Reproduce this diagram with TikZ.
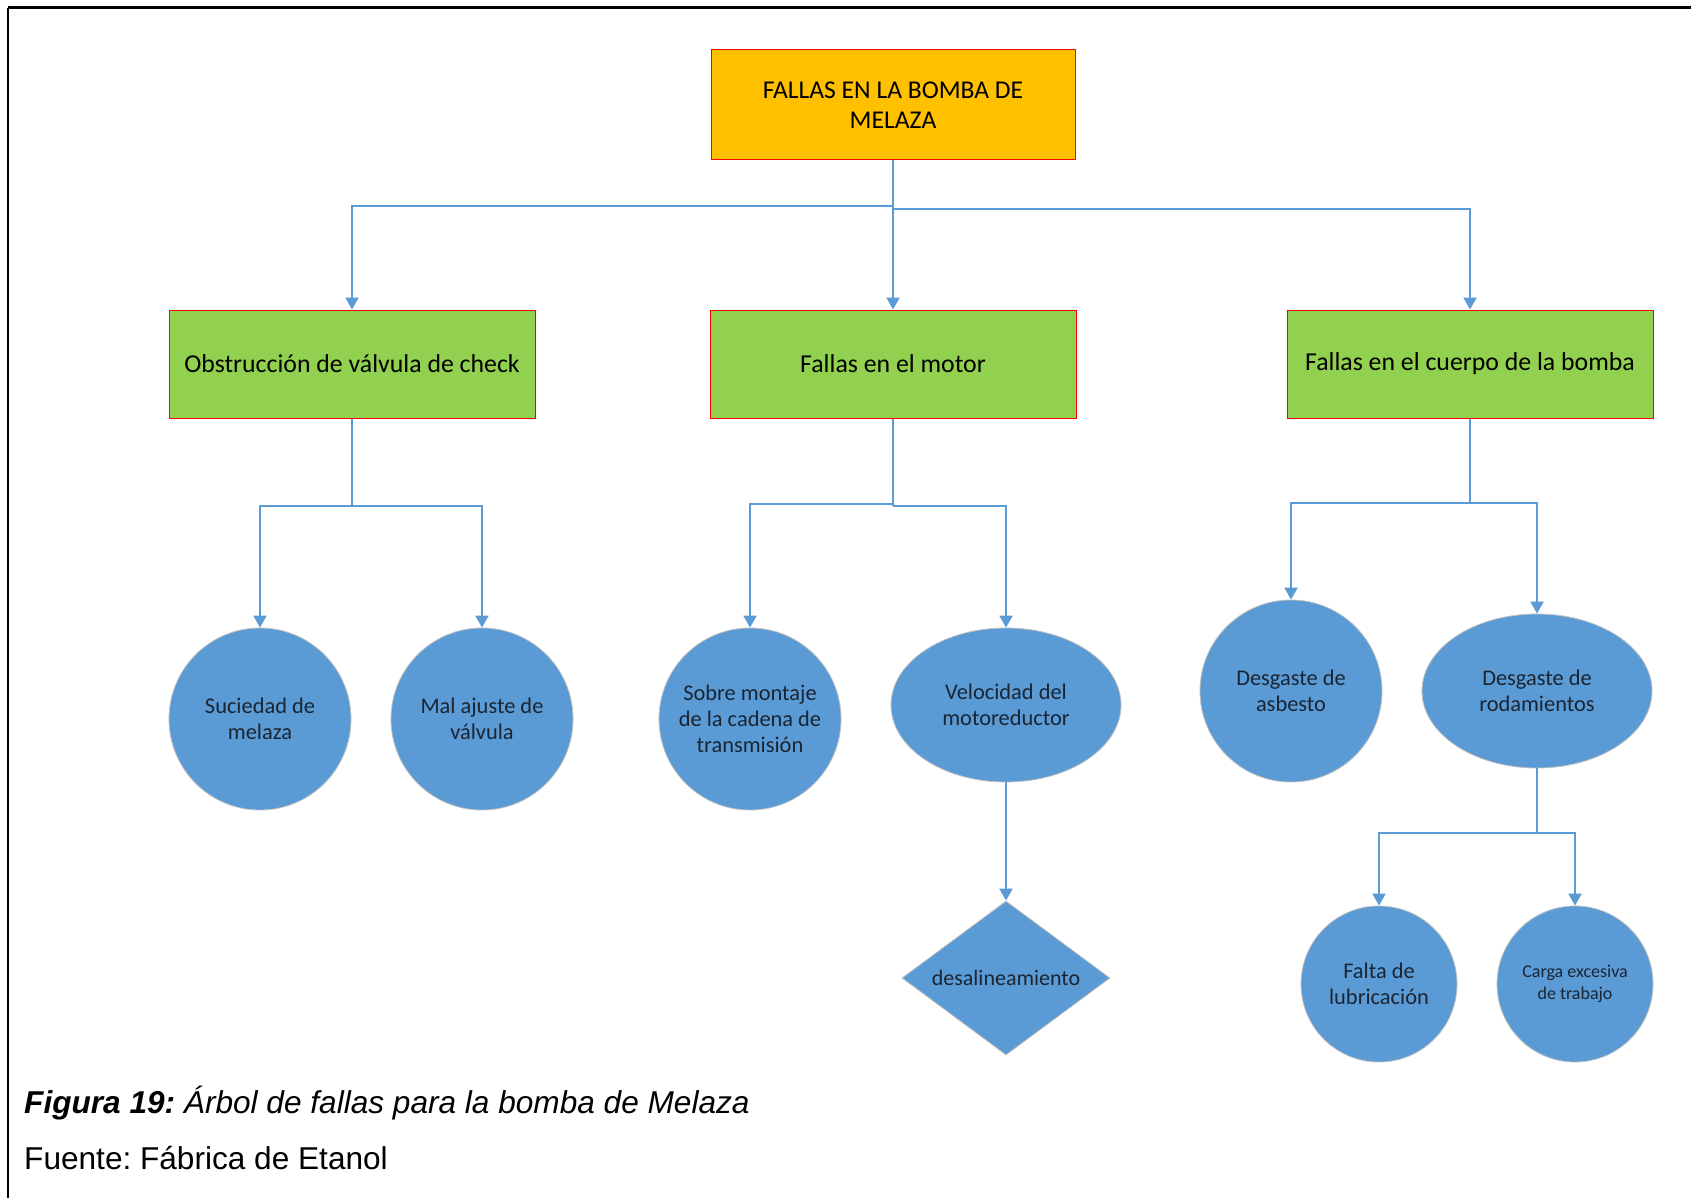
\documentclass[tikz,border=0pt]{standalone}
\usepackage{fontspec}
\setmainfont{Carlito}
\newfontfamily\capfont{Liberation Sans}
\usetikzlibrary{shapes.geometric,arrows.meta}
\frenchspacing

\definecolor{topfill}{HTML}{FFC000}
\definecolor{midfill}{HTML}{92D050}
\definecolor{leaffill}{HTML}{5B9BD5}
\definecolor{linkcol}{HTML}{5B9BD5}
\definecolor{edgered}{HTML}{FF0000}
\definecolor{leaftext}{HTML}{1A2533}

\tikzset{
  rootbox/.style={rectangle, fill=topfill, draw=edgered, line width=1pt,
    minimum width=364pt, minimum height=110pt, align=center, inner sep=0pt,
    font=\fontsize{25.6}{30}\selectfont},
  midbox/.style={rectangle, fill=midfill, draw=edgered, line width=1pt,
    minimum width=366pt, minimum height=108pt, align=center, inner sep=0pt,
    font=\fontsize{25.8}{30}\selectfont},
  leafcirc/.style={circle, fill=leaffill, draw=black!25, line width=0.8pt,
    minimum size=#1, inner sep=0pt, align=center, text=leaftext,
    font=\fontsize{22.4}{26}\selectfont},
  leafoval/.style={ellipse, fill=leaffill, draw=black!25, line width=0.8pt,
    minimum width=230pt, minimum height=154pt, inner sep=0pt, align=center,
    text=leaftext, font=\fontsize{22.4}{26}\selectfont},
  leafdiam/.style={diamond, fill=leaffill, draw=black!25, line width=0.8pt,
    minimum width=208pt, minimum height=154pt, inner sep=0pt, aspect=1.35,
    text=leaftext, font=\fontsize{22}{26}\selectfont},
  link/.style={draw=linkcol, line width=2pt,
    -{Triangle[width=13pt,length=12pt]}},
  plainlink/.style={draw=linkcol, line width=2pt},
  frameline/.style={draw=black, line width=#1},
  captxt/.style={anchor=west, inner sep=0pt, font=\capfont\fontsize{31.6}{38}\selectfont}
}

\begin{document}
\begin{tikzpicture}[x=1pt,y=-1pt]
  \useasboundingbox[fill=white] (0,0) rectangle (1691,1198);

  % outer frame (top and left edges)
  \draw[frameline=3pt] (8,8) -- (1691,8);
  \draw[frameline=2pt] (8,8) -- (8,1198);

  % root and first level
  \node[rootbox] (root) at (893,105) {FALLAS EN LA BOMBA DE\\MELAZA};
  \node[midbox] (valv) at (352,364) {Obstrucción de válvula de check};
  \node[midbox] (motor) at (893,364) {Fallas en el motor};
  \node[midbox] (cuerpo) at (1470,364) {Fallas en el cuerpo de la bomba};

  % second level
  \node[leafcirc=182pt] (suc) at (260,719) {Suciedad de\\melaza};
  \node[leafcirc=182pt] (ajuste) at (482,719) {Mal ajuste de\\válvula};
  \node[leafcirc=182pt] (cadena) at (750,719) {Sobre montaje\\de la cadena de\\transmisión};
  \node[leafoval] (veloc) at (1006,705) {Velocidad del\\motoreductor};
  \node[leafcirc=182pt] (asbesto) at (1291,691) {Desgaste de\\asbesto};
  \node[leafoval] (rodam) at (1537,691) {Desgaste de\\rodamientos};

  % third level
  \node[leafdiam] (desal) at (1006,978) {desalineamiento};
  \node[leafcirc=156pt] (lubri) at (1379,984) {Falta de\\lubricación};
  \node[leafcirc=156pt, font=\fontsize{18}{22.6}\selectfont] (carga) at (1575,984) {Carga excesiva\\de trabajo};

  % junction points of the tree
  \coordinate (jr1) at (893,206);
  \coordinate (jr2) at (893,209);
  \coordinate (jv) at (352,506);
  \coordinate (jm1) at (893,504);
  \coordinate (jm2) at (893,506);
  \coordinate (jc) at (1470,503);
  \coordinate (jd) at (1537,833);

  % root -> first level
  \draw[plainlink] (root.south) -- (jr2);
  \draw[link] (root.south) -- (motor.north);
  \draw[link] (jr1) -| (valv.north);
  \draw[link] (jr2) -| (cuerpo.north);

  % first level -> second level
  \draw[plainlink] (valv.south) -- (jv);
  \draw[link] (jv) -| (suc.north);
  \draw[link] (jv) -| (ajuste.north);

  \draw[plainlink] (motor.south) -- (jm2);
  \draw[link] (jm1) -| (cadena.north);
  \draw[link] (jm2) -| (veloc.north);

  \draw[plainlink] (cuerpo.south) -- (jc);
  \draw[link] (jc) -| (asbesto.north);
  \draw[link] (jc) -| (rodam.north);

  % second level -> third level
  \draw[link] (veloc.south) -- (desal.north);
  \draw[plainlink] (rodam.south) -- (jd);
  \draw[link] (jd) -| (lubri.north);
  \draw[link] (jd) -| (carga.north);

  % caption
  \node[captxt] (cap1) at (24,1103) {\textbf{\textit{Figura 19:}} \textit{Árbol de fallas para la bomba de Melaza}};
  \node[captxt] (cap2) at (24,1158) {Fuente: Fábrica de Etanol};
\end{tikzpicture}
\end{document}
